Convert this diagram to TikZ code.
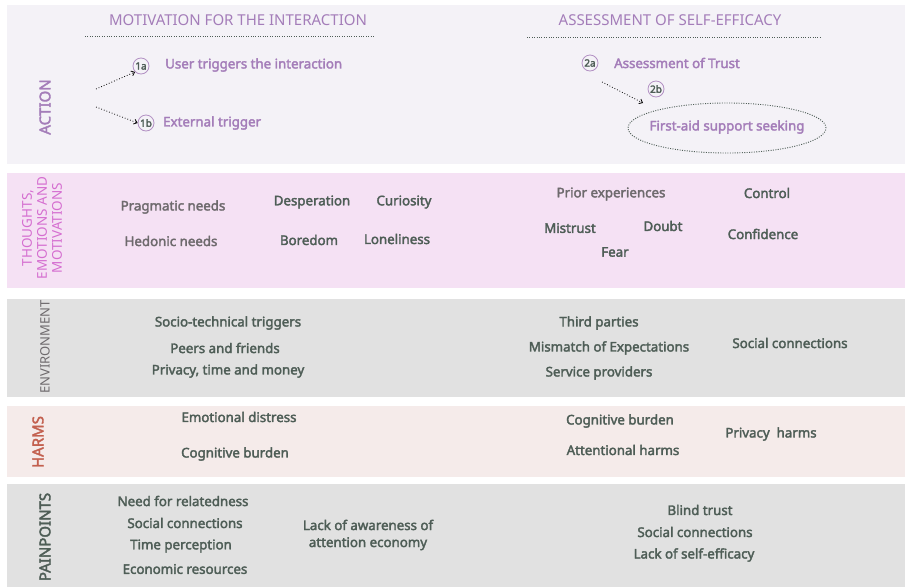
\documentclass[tikz,border=0pt]{standalone}
\usepackage{fontspec}
\setmainfont{Noto Sans}
\newfontfamily\medium[FakeBold=2.5]{Noto Sans}
\usetikzlibrary{arrows.meta, shapes.geometric}

\definecolor{actbg}{HTML}{F4F2F7}
\definecolor{thbg}{HTML}{F5E1F4}
\definecolor{envbg}{HTML}{E1E1E1}
\definecolor{harmbg}{HTML}{F5EBEA}
\definecolor{lilac}{HTML}{A47DB9}
\definecolor{orchid}{HTML}{D56ED0}
\definecolor{brick}{HTML}{C3604F}
\definecolor{slate}{HTML}{4E5D56}
\definecolor{mauvegray}{HTML}{6E6A6D}

\begin{document}
\begin{tikzpicture}[x=1pt, y=-1pt,
    head/.style={font=\fontsize{15}{17}\selectfont, text=lilac},
    item/.style={font=\medium\fontsize{13.3}{15}\selectfont, text=slate, inner sep=1pt},
    soft/.style={item, text=mauvegray},
    act/.style={item, text=lilac},
    badge/.style={circle, draw=lilac!85, line width=0.8pt, fill=actbg, inner sep=0pt, minimum size=16pt,
        font=\medium\fontsize{10}{11}\selectfont, text=slate},
    rowlabel/.style={rotate=90, font=\fontsize{13}{14}\selectfont, inner sep=0pt},
    link/.style={dotted, thick, -{Straight Barb[length=3pt, width=5pt]}}]

    \useasboundingbox (0,0) rectangle (905,587);

    % Row backgrounds
    \fill[actbg] (7,5) rectangle (905,164);
    \fill[thbg] (7,173) rectangle (905,288);
    \fill[envbg] (7,299) rectangle (905,397);
    \fill[harmbg] (7,406) rectangle (905,477);
    \fill[envbg] (7,484) rectangle (905,587);

    % Column headings
    \node[head] (motiv) at (238,20) {MOTIVATION FOR THE INTERACTION};
    \node[head] (assess) at (670,20) {ASSESSMENT OF SELF-EFFICACY};
    \draw[dotted, slate] (85,36) -- (375,36);
    \draw[dotted, slate] (527,37) -- (821,37);

    % Row labels
    \node[rowlabel, font=\medium\fontsize{15}{16}\selectfont, text=lilac] (lact) at (45,107) {ACTION};
    \node[rowlabel, text=orchid, align=center, font=\fontsize{13.5}{15}\selectfont] (lthink) at (42,228)
        {THOUGHTS,\\EMOTIONS AND\\MOTIVATIONS};
    \node[rowlabel, text=mauvegray] (lenv) at (45,347) {ENVIRONMENT};
    \node[rowlabel, text=brick, font=\medium\fontsize{15}{16}\selectfont] (lharm) at (38,442) {HARMS};
    \node[rowlabel, text=slate, font=\medium\fontsize{15}{16}\selectfont] (lpain) at (45,537) {PAINPOINTS};

    % Action: motivation side
    \coordinate (src1a) at (96,89);
    \coordinate (src1b) at (96,107);
    \node[badge] (b1a) at (141,66) {1a};
    \node[badge] (b1b) at (146,123) {1b};
    \node[act, anchor=west] (user) at (164,65) {User triggers the interaction};
    \node[act, anchor=west] (ext) at (162,123) {External trigger};
    \draw[link] (src1a) -- (b1a.south west);
    \draw[link] (src1b) -- (b1b.west);

    % Action: self-efficacy side
    \node[badge] (b2a) at (590,63) {2a};
    \node[badge] (b2b) at (656,89) {2b};
    \node[act, anchor=west] (trust) at (613,63) {Assessment of Trust};
    \node[draw=slate, dash pattern=on 1pt off 1.4pt, line width=0.9pt, ellipse,
        minimum width=198pt, minimum height=50pt] (seek) at (727,128) {};
    \node[act] (firstaid) at (727,127) {First-aid support seeking};
    \coordinate (src2b) at (602,82);
    \coordinate (dst2b) at (643,103);
    \draw[link] (src2b) -- (dst2b);

    % Thoughts, emotions and motivations
    \node[soft] (prag) at (173,207) {Pragmatic needs};
    \node[soft] (hedo) at (171,241) {Hedonic needs};
    \node[item] (desp) at (312,202) {Desperation};
    \node[item] (bore) at (309,240) {Boredom};
    \node[item] (curi) at (404,202) {Curiosity};
    \node[item] (lone) at (397,239) {Loneliness};
    \node[soft] (prior) at (611,194) {Prior experiences};
    \node[item] (ctrl) at (767,193) {Control};
    \node[item] (mist) at (570,228) {Mistrust};
    \node[item] (doubt) at (663,226) {Doubt};
    \node[item] (conf) at (763,234) {Confidence};
    \node[item] (fear) at (615,252) {Fear};

    % Environment
    \node[item] (socio) at (228,323) {Socio-technical triggers};
    \node[item] (peers) at (225,348) {Peers and friends};
    \node[item] (ptm) at (228,371) {Privacy, time and money};
    \node[item] (third) at (599,323) {Third parties};
    \node[item] (mism) at (609,348) {Mismatch of Expectations};
    \node[item] (serv) at (599,373) {Service providers};
    \node[item] (socenv) at (790,343) {Social connections};

    % Harms
    \node[item] (emo) at (239,417) {Emotional distress};
    \node[item] (cog1) at (235,454) {Cognitive burden};
    \node[item] (cog2) at (620,421) {Cognitive burden};
    \node[item] (attn) at (623,450) {Attentional harms};
    \node[item] (priv) at (771,434) {Privacy\ \ harms};

    % Painpoints
    \node[item] (need) at (183,501) {Need for relatedness};
    \node[item] (soc1) at (185,523) {Social connections};
    \node[item] (time) at (181,546) {Time perception};
    \node[item] (econ) at (185,569) {Economic resources};
    \node[item, align=center, font=\medium\fontsize{13.3}{17}\selectfont] (aware) at (368,535)
        {Lack of awareness of\\attention economy};
    \node[item] (blind) at (700,510) {Blind trust};
    \node[item] (soc2) at (695,532) {Social connections};
    \node[item] (self) at (694,555) {Lack of self-efficacy};
\end{tikzpicture}
\end{document}
